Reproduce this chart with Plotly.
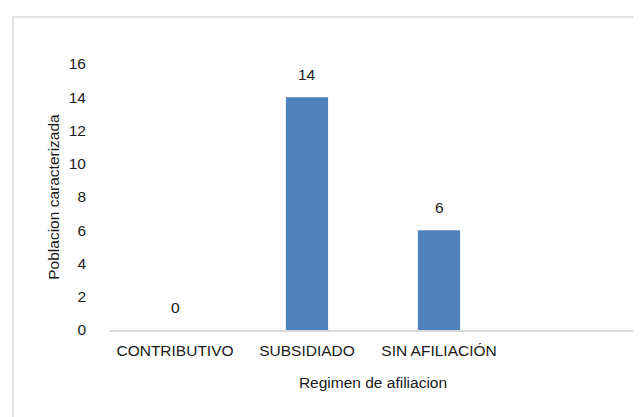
import plotly.graph_objects as go

categories = ["CONTRIBUTIVO", "SUBSIDIADO", "SIN AFILIACIÓN"]
values = [0, 14, 6]
y_ticks = [0, 2, 4, 6, 8, 10, 12, 14, 16]

FONT = "Liberation Sans, Arial, sans-serif"
FS = 15.5
TXT = "#1a1a1a"

fig = go.Figure()
fig.add_trace(go.Bar(
    x=categories, y=values, width=0.32,
    marker=dict(color="#4F81BD", line=dict(width=0)),
    hoverinfo="x+y",
))

for c, v in zip(categories, values):
    fig.add_annotation(x=c, y=v, text=str(v), showarrow=False,
                       yanchor="bottom", yshift=12,
                       font=dict(family=FONT, size=FS, color=TXT))

fig.update_layout(
    width=641, height=417,
    margin=dict(l=101, r=12, t=56, b=95),
    paper_bgcolor="white", plot_bgcolor="white",
    showlegend=False,
    font=dict(family=FONT, size=FS, color=TXT),
    xaxis=dict(
        type="category", categoryorder="array", categoryarray=categories,
        range=[-0.5, 3.5], showline=True, linecolor="#D9D9D9", linewidth=1.5,
        showgrid=False, zeroline=False, ticks="", ticklabelstandoff=6,
        title=dict(text="Regimen de afiliacion", standoff=19,
                   font=dict(family=FONT, size=FS, color=TXT)),
        tickfont=dict(family=FONT, size=FS, color=TXT),
    ),
    yaxis=dict(
        range=[0, 16], tickvals=y_ticks, showline=False, showgrid=False,
        zeroline=False, ticks="", ticklabelstandoff=22,
        title=dict(text="Poblacion caracterizada", standoff=5,
                   font=dict(family=FONT, size=FS, color=TXT)),
        tickfont=dict(family=FONT, size=FS, color=TXT),
    ),
    shapes=[dict(type="rect", xref="paper", yref="paper",
                 x0=(5 - 101) / 528, x1=(648 - 101) / 528,
                 y0=(322 - 425) / 266, y1=1 + (56 - 9) / 266,
                 line=dict(color="#D9D9D9", width=1.5), fillcolor="rgba(0,0,0,0)",
                 layer="below")],
)

fig.write_html("out.html")
